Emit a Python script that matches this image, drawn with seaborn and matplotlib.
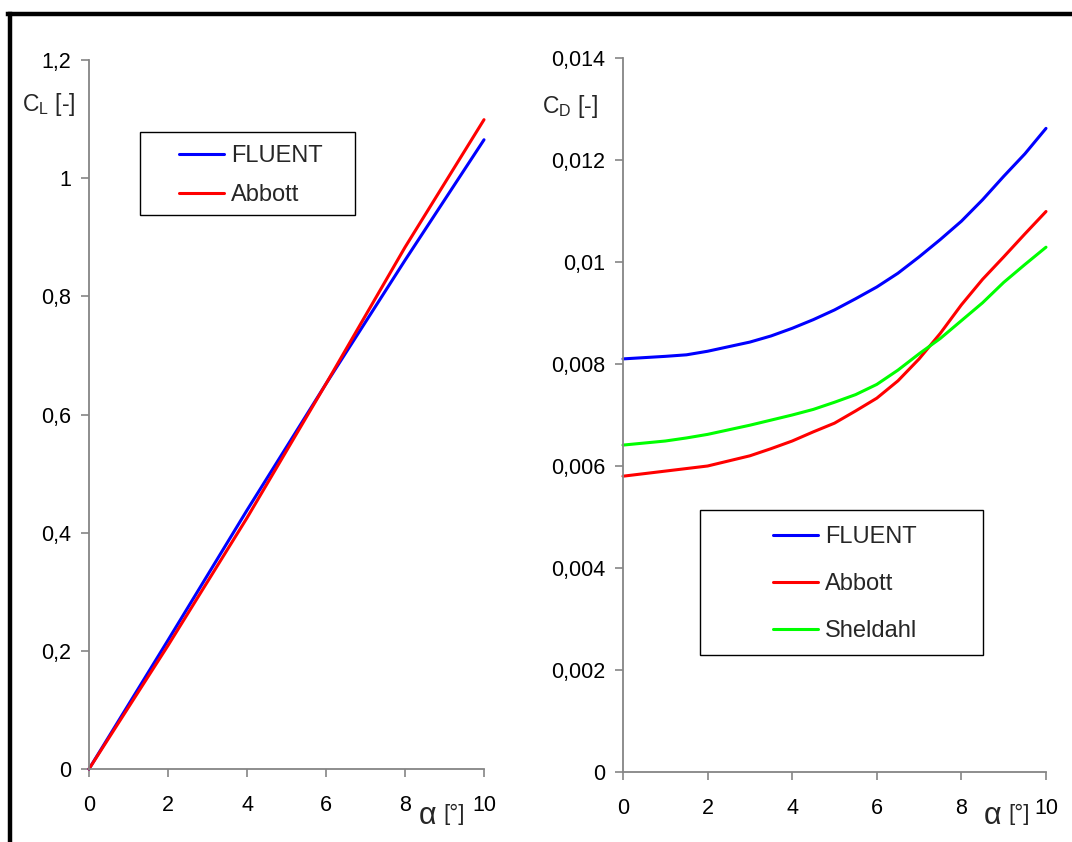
import matplotlib
matplotlib.use("Agg")
import matplotlib.pyplot as plt
import seaborn as sns
import pandas as pd
from matplotlib.patches import Rectangle
from matplotlib.lines import Line2D

# ---------------- data ----------------
alpha_cl = [0, 2, 4, 6, 8, 10]
cl_fluent = [0.0, 0.218, 0.438, 0.652, 0.861, 1.065]
cl_abbott = [0.0, 0.209, 0.425, 0.652, 0.883, 1.099]

alpha_cd = [0, 1, 1.5, 2, 3, 3.5, 4, 4.5, 5, 5.5, 6, 6.5, 7, 7.5, 8, 8.5, 9, 9.5, 10]
cd_fluent = [0.00810, 0.00815, 0.00818, 0.00825, 0.00843, 0.00855, 0.00870, 0.00887,
             0.00906, 0.00928, 0.00951, 0.00978, 0.01010, 0.01044, 0.01080, 0.01122,
             0.01168, 0.01212, 0.01262]
cd_abbott = [0.00580, 0.00590, 0.00595, 0.00600, 0.00620, 0.00634, 0.00649, 0.00667,
             0.00684, 0.00708, 0.00733, 0.00767, 0.00810, 0.00860, 0.00916, 0.00966,
             0.01010, 0.01055, 0.01099]
cd_sheldahl = [0.00641, 0.00649, 0.00655, 0.00662, 0.00680, 0.00690, 0.00700, 0.00711,
               0.00725, 0.00740, 0.00760, 0.00788, 0.00820, 0.00850, 0.00885, 0.00920,
               0.00960, 0.00995, 0.01029]

x_ticks = [0, 2, 4, 6, 8, 10]
x_ticklabels = ["0", "2", "4", "6", "8", "10"]
cl_ticks = [0, 0.2, 0.4, 0.6, 0.8, 1.0, 1.2]
cl_ticklabels = ["0", "0,2", "0,4", "0,6", "0,8", "1", "1,2"]
cd_ticks = [0, 0.002, 0.004, 0.006, 0.008, 0.010, 0.012, 0.014]
cd_ticklabels = ["0", "0,002", "0,004", "0,006", "0,008", "0,01", "0,012", "0,014"]

colors = {"FLUENT": "#0000FF", "Abbott": "#FF0000", "Sheldahl": "#00FF00"}

df_cl = pd.concat([
    pd.DataFrame({"alpha": alpha_cl, "value": cl_fluent, "source": "FLUENT"}),
    pd.DataFrame({"alpha": alpha_cl, "value": cl_abbott, "source": "Abbott"}),
])
df_cd = pd.concat([
    pd.DataFrame({"alpha": alpha_cd, "value": cd_fluent, "source": "FLUENT"}),
    pd.DataFrame({"alpha": alpha_cd, "value": cd_abbott, "source": "Abbott"}),
    pd.DataFrame({"alpha": alpha_cd, "value": cd_sheldahl, "source": "Sheldahl"}),
])

# ---------------- style ----------------
sns.set_theme(style="white")
plt.rcParams["font.family"] = ["Liberation Sans", "DejaVu Sans"]
plt.rcParams["mathtext.fontset"] = "custom"
plt.rcParams["mathtext.rm"] = "Liberation Sans"

W, H = 1072, 842
fig = plt.figure(figsize=(W / 100, H / 100), dpi=100)
fig.patch.set_facecolor("white")

def fx(px):
    return px / W

def fy(py):
    return 1 - py / H

ax1 = fig.add_axes([fx(89), fy(769), fx(484) - fx(89), fy(60) - fy(769)])
ax2 = fig.add_axes([fx(623), fy(772), fx(1046) - fx(623), fy(58) - fy(772)])

LW = 2.2
sns.lineplot(data=df_cl, x="alpha", y="value", hue="source", palette=colors,
             ax=ax1, linewidth=LW, sort=False, legend=True)
sns.lineplot(data=df_cd, x="alpha", y="value", hue="source", palette=colors,
             ax=ax2, linewidth=LW, sort=False, legend=True)

spine_col = "#858585"
for ax, yt, ytl, ylim in [(ax1, cl_ticks, cl_ticklabels, (0, 1.2)),
                          (ax2, cd_ticks, cd_ticklabels, (0, 0.014))]:
    ax.set_xlim(0, 10)
    ax.set_ylim(*ylim)
    ax.set_xticks(x_ticks)
    ax.set_xticklabels(x_ticklabels)
    ax.set_yticks(yt)
    ax.set_yticklabels(ytl)
    ax.set_xlabel("")
    ax.set_ylabel("")
    for s in ["top", "right"]:
        ax.spines[s].set_visible(False)
    for s in ["left", "bottom"]:
        ax.spines[s].set_color(spine_col)
        ax.spines[s].set_linewidth(1.3)
    ax.tick_params(axis="both", which="major", direction="out", length=6, width=1.2,
                   color=spine_col, labelsize=15.5, labelcolor="black")
    ax.tick_params(axis="y", pad=7, left=True)
    ax.tick_params(axis="x", pad=13, bottom=True)
    ax.patch.set_alpha(0)
    for ln in ax.get_lines():
        ln.set_clip_on(False)

# legends (frameless, with drawn boxes)
h1, l1 = ax1.get_legend_handles_labels()
ax1.legend(h1, l1, loc="center", bbox_to_anchor=(fx(251), fy(175.5)),
           bbox_transform=fig.transFigure, frameon=False, fontsize=17,
           handlelength=1.9, handletextpad=0.3, labelspacing=0.72, borderpad=0)
for ln in ax1.get_legend().get_lines():
    ln.set_linewidth(LW)
fig.add_artist(Rectangle((fx(140), fy(215)), fx(355) - fx(140), fy(132) - fy(215),
                         transform=fig.transFigure, fill=False, ec="black", lw=1.0))

h2, l2 = ax2.get_legend_handles_labels()
ax2.legend(h2, l2, loc="center", bbox_to_anchor=(fx(845), fy(584)),
           bbox_transform=fig.transFigure, frameon=False, fontsize=17,
           handlelength=1.9, handletextpad=0.3, labelspacing=1.06, borderpad=0)
for ln in ax2.get_legend().get_lines():
    ln.set_linewidth(LW)
fig.add_artist(Rectangle((fx(700), fy(655)), fx(983) - fx(700), fy(510) - fy(655),
                         transform=fig.transFigure, fill=False, ec="black", lw=1.0))

# axis labels
fig.text(fx(75), fy(104), r"C$_\mathregular{L}$ [-]", ha="right", va="center", fontsize=16.5)
fig.text(fx(598), fy(107), r"C$_\mathregular{D}$ [-]", ha="right", va="center", fontsize=16.5)
for x0 in (419, 984):
    fig.text(fx(x0), fy(816), "α", ha="left", va="center", fontsize=22)
    fig.text(fx(x0 + 24), fy(814), "[°]", ha="left", va="center", fontsize=16)

# outer frame (top and left visible)
fig.add_artist(Line2D([fx(8), 1.0], [fy(14), fy(14)], transform=fig.transFigure,
                      color="black", lw=3.2, solid_capstyle="projecting"))
fig.add_artist(Line2D([fx(10), fx(10)], [0.0, fy(14)], transform=fig.transFigure,
                      color="black", lw=3.2, solid_capstyle="projecting"))

fig.savefig("out.png", dpi=100, facecolor="white")
